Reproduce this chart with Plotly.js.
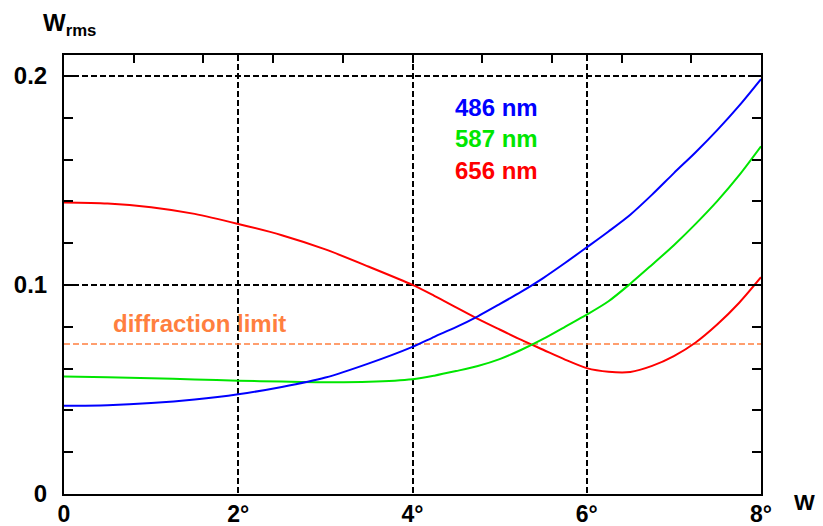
<!DOCTYPE html>
<html>
<head>
<meta charset="utf-8">
<script src="https://cdn.plot.ly/plotly-3.0.1.min.js"></script>
<style>html,body{margin:0;padding:0;background:#fff;}#chart{width:823px;height:526px;}</style>
</head>
<body>
<div id="chart"></div>
<script>
// field angle (degrees)
var angles = [0, 0.5, 1, 1.5, 2, 2.5, 3, 3.5, 4, 4.25, 4.5, 4.75, 5, 5.25, 5.5, 5.75, 6, 6.25, 6.5, 6.75, 7, 7.25, 7.5, 7.75, 8];
// RMS wavefront error for each wavelength
var w486 = [0.0422, 0.0425, 0.0435, 0.0452, 0.0477, 0.0512, 0.0557, 0.0625, 0.0704, 0.0752, 0.0798, 0.0850, 0.0908, 0.0968, 0.1033, 0.1105, 0.1180, 0.1256, 0.1336, 0.1432, 0.1535, 0.1635, 0.1742, 0.1858, 0.1985];
var w587 = [0.0562, 0.0558, 0.0554, 0.0548, 0.0542, 0.0538, 0.0535, 0.0537, 0.0549, 0.0566, 0.0588, 0.0612, 0.0645, 0.0690, 0.0742, 0.0800, 0.0858, 0.0922, 0.1006, 0.1097, 0.1190, 0.1292, 0.1402, 0.1525, 0.1663];
var w656 = [0.1395, 0.1390, 0.1372, 0.1340, 0.1292, 0.1238, 0.1170, 0.1087, 0.1000, 0.0948, 0.0893, 0.0838, 0.0787, 0.0737, 0.0690, 0.0643, 0.0602, 0.0585, 0.0584, 0.0613, 0.0660, 0.0725, 0.0812, 0.0915, 0.1037];
var diffractionLimit = 0.0717;
var seriesNames = ["486 nm", "587 nm", "656 nm"];
var xTickVals = [0, 2, 4, 6, 8];
var xTickText = ["0", "2°", "4°", "6°", "8°"];
var yTickVals = [0, 0.1, 0.2];
var yTickText = ["0", "0.1", "0.2"];

var FONT = "Liberation Sans, Arial, Helvetica, sans-serif";
var colors = ["#0000ff", "#00e600", "#ff0000"];
var orange = "#ff7f3f";

function lineTrace(y, c, name) {
  return {x: angles, y: y, type: "scatter", mode: "lines", name: name,
          line: {color: c, width: 2, shape: "spline", smoothing: 0.8}, showlegend: false, hoverinfo: "skip"};
}

var traces = [
  {x: [0, 8], y: [diffractionLimit, diffractionLimit], type: "scatter", mode: "lines",
   line: {color: orange, width: 1.5, dash: "6px,3px"}, showlegend: false, hoverinfo: "skip"},
  lineTrace(w656, colors[2], seriesNames[2]),
  lineTrace(w587, colors[1], seriesNames[1]),
  lineTrace(w486, colors[0], seriesNames[0]),
  // invisible trace to activate top axis
  {x: [0, 8], y: [0, 0], xaxis: "x2", yaxis: "y", type: "scatter", mode: "lines",
   line: {width: 0, color: "rgba(0,0,0,0)"}, showlegend: false, hoverinfo: "skip"}
];

var tickFont = {family: FONT, size: 24, color: "#000", weight: "bold"};

var layout = {
  width: 823, height: 526,
  margin: {l: 64, r: 62, t: 55, b: 32},
  paper_bgcolor: "#fff", plot_bgcolor: "#fff",
  showlegend: false,
  font: {family: FONT},
  xaxis: {
    range: [0, 8], tickmode: "array", tickvals: xTickVals, ticktext: xTickText,
    ticks: "", showline: true, linecolor: "#000", linewidth: 2, mirror: true,
    showgrid: true, gridcolor: "#000", gridwidth: 2, griddash: "6px,3px",
    zeroline: false, tickfont: {family: FONT, size: 23, color: "#000", weight: "bold"}, ticklabelstandoff: -2
  },
  xaxis2: {
    range: [0, 8], overlaying: "x", side: "top", anchor: "y",
    tickmode: "linear", tick0: 0, dtick: 0.8, ticks: "inside", ticklen: 8, tickwidth: 2,
    tickcolor: "#000", showticklabels: false, showgrid: false, zeroline: false, showline: false
  },
  yaxis: {
    range: [0, 0.21], tickmode: "array", tickvals: yTickVals, ticktext: yTickText,
    ticks: "inside", ticklen: 9, tickwidth: 2, tickcolor: "#000",
    minor: {dtick: 0.02, tick0: 0, ticks: "inside", ticklen: 9, tickwidth: 2, tickcolor: "#000", showgrid: false},
    showline: true, linecolor: "#000", linewidth: 2, mirror: "ticks",
    showgrid: true, gridcolor: "#000", gridwidth: 2, griddash: "6px,3px",
    zeroline: false, tickfont: tickFont, ticklabelstandoff: 10
  },
  annotations: [
    {x: 4.47, y: 0.185, xref: "x", yref: "y", text: seriesNames[0], showarrow: false, xanchor: "left", yanchor: "middle",
     font: {family: FONT, size: 24, color: colors[0], weight: "bold"}},
    {x: 4.47, y: 0.170, xref: "x", yref: "y", text: seriesNames[1], showarrow: false, xanchor: "left", yanchor: "middle",
     font: {family: FONT, size: 24, color: colors[1], weight: "bold"}},
    {x: 4.47, y: 0.1548, xref: "x", yref: "y", text: seriesNames[2], showarrow: false, xanchor: "left", yanchor: "middle",
     font: {family: FONT, size: 24, color: colors[2], weight: "bold"}},
    {x: 0.54, y: 0.0815, xref: "x", yref: "y", text: "diffraction limit", showarrow: false, xanchor: "left", yanchor: "middle",
     font: {family: FONT, size: 24, color: orange, weight: "bold"}},
    {x: 1.062, y: -0.02, xref: "paper", yref: "paper", text: "W", showarrow: false, xanchor: "center", yanchor: "middle",
     font: {family: FONT, size: 22, color: "#000", weight: "bold"}},
    {x: -0.033, y: 1.07, xref: "paper", yref: "paper", text: "W<sub>rms</sub>", showarrow: false, xanchor: "left", yanchor: "middle",
     font: {family: FONT, size: 24, color: "#000", weight: "bold"}}
  ]
};

Plotly.newPlot("chart", traces, layout, {staticPlot: true, displayModeBar: false});
</script>
</body>
</html>
